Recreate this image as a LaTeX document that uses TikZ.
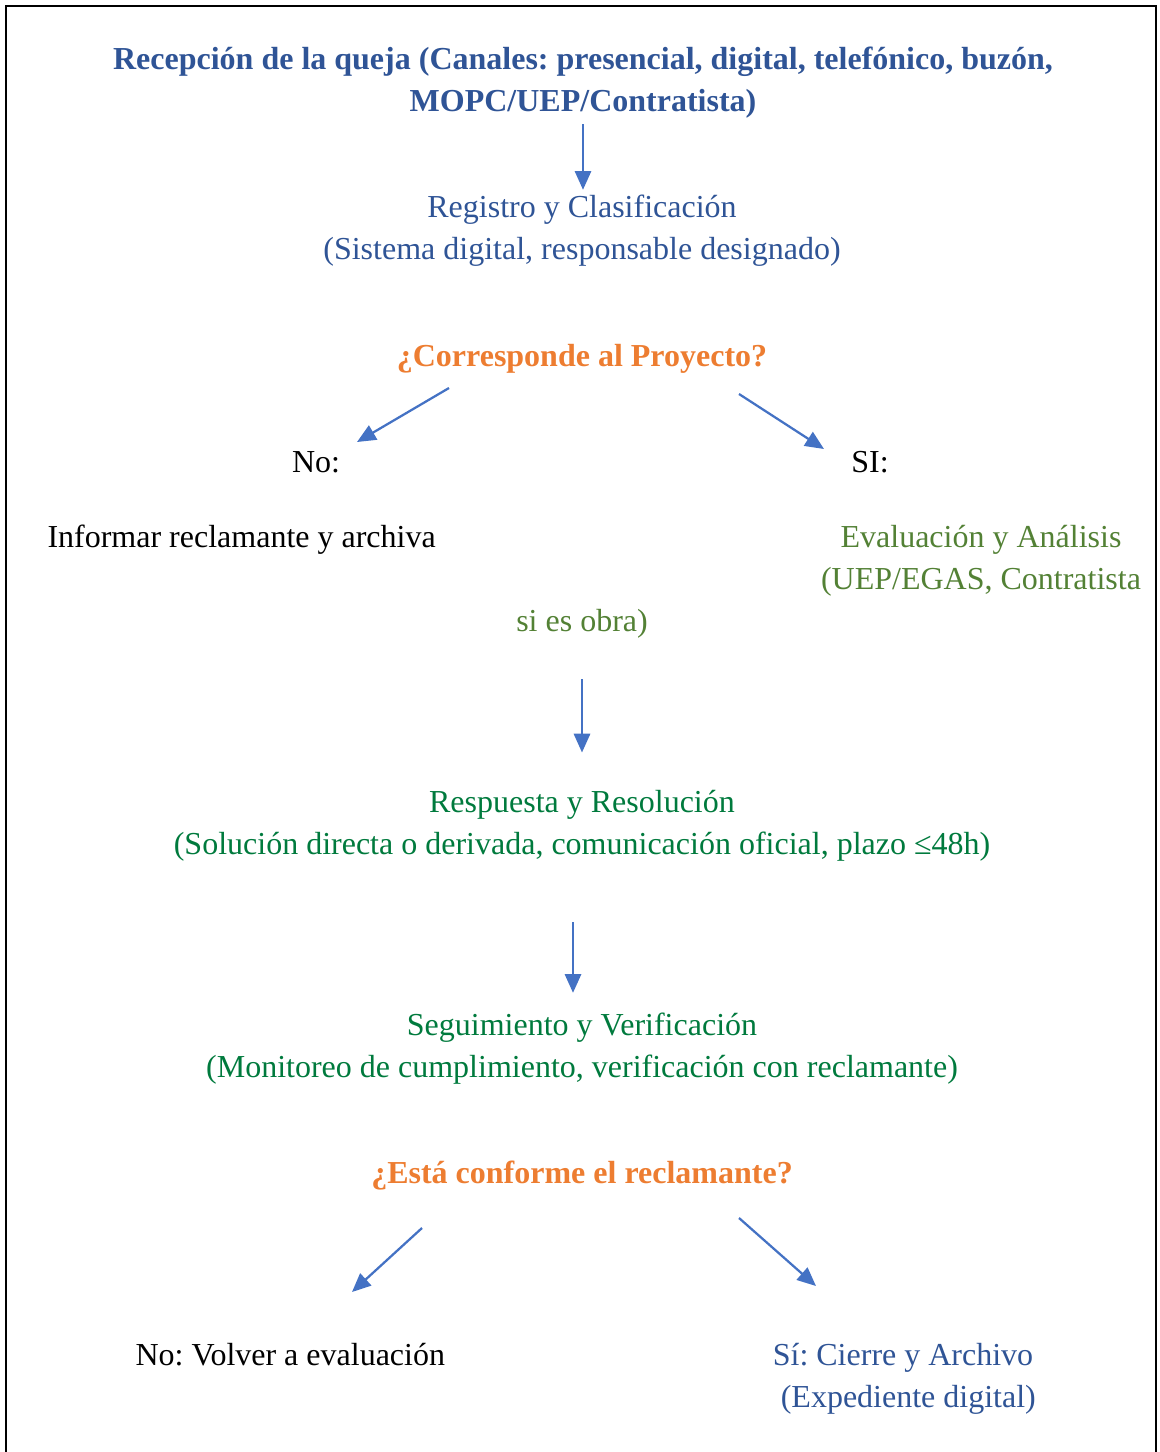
\documentclass[tikz,border=0pt]{standalone}
\usepackage{fontspec}
\setmainfont{Liberation Serif}
\usetikzlibrary{arrows.meta,positioning,calc}
\definecolor{quejablue}{RGB}{47,84,150}
\definecolor{quejaorange}{RGB}{237,125,49}
\definecolor{evalgreen}{RGB}{83,129,53}
\definecolor{resgreen}{RGB}{0,122,61}
\definecolor{arrowblue}{RGB}{68,114,196}
\frenchspacing

\begin{document}
\begin{tikzpicture}[x=0.4pt,y=-0.4pt,
    texto/.style={inner sep=2pt,align=center,font=\fontsize{12.8}{16.8}\selectfont},
    negrita/.style={texto,font=\fontsize{12.8}{16.8}\selectfont\bfseries},
    flecha/.style={draw=arrowblue,line width=0.9pt,-{Triangle[length=7.5pt,width=6.5pt]}}]
    \useasboundingbox (0,0) rectangle (1159,1452);
    % Marco
    \draw[line width=1pt] (6,1470) -- (6,6) -- (1156,6) -- (1156,1470);

    % Recepcion y registro
    \node[negrita,text=quejablue] (recepcion) at (583,83)
        {Recepción de la queja (Canales: presencial, digital, telefónico, buzón,\\MOPC/UEP/Contratista)};
    \node[texto,text=quejablue] (registro) at (582,231)
        {Registro y Clasificación\\(Sistema digital, responsable designado)};

    % Primera decision
    \node[negrita,text=quejaorange] (pregunta1) at (582,359) {¿Corresponde al Proyecto?};
    \node[texto] (no1) at (316,462) {No:};
    \node[texto] (si1) at (870,462) {SI:};
    \node[texto,anchor=west,inner sep=0pt] (archiva) at (47,540) {Informar reclamante y archiva};
    \node[texto,text=evalgreen] (evaluacion) at (981,561)
        {Evaluación y Análisis\\(UEP/EGAS, Contratista};
    \node[texto,text=evalgreen] (obra) at (582,624) {si es obra)};

    % Respuesta y seguimiento
    \node[texto,text=resgreen] (respuesta) at (582,826)
        {Respuesta y Resolución\\(Solución directa o derivada, comunicación oficial, plazo ≤48h)};
    \node[texto,text=resgreen] (seguimiento) at (582,1049)
        {Seguimiento y Verificación\\(Monitoreo de cumplimiento, verificación con reclamante)};

    % Segunda decision
    \node[negrita,text=quejaorange] (pregunta2) at (582,1176) {¿Está conforme el reclamante?};
    \node[texto,anchor=west,inner sep=0pt] (volver) at (135,1355) {No: Volver a evaluación};
    \node[texto,text=quejablue] (cierre) at (903,1379)
        {Sí: Cierre y Archivo\\\phantom{(}(Expediente digital)};

    % Puntas libres de las flechas diagonales
    \coordinate (p1no) at (449,388);
    \coordinate (p1noend) at (357,442);
    \coordinate (p1si) at (739,394);
    \coordinate (p1siend) at (824,449);
    \coordinate (p2no) at (422,1228);
    \coordinate (p2noend) at (352,1292);
    \coordinate (p2si) at (739,1218);
    \coordinate (p2siend) at (816,1286);

    % Flechas
    \draw[flecha] (recepcion.south) -- (recepcion.south |- registro.north);
    \draw[flecha] (p1no) -- (p1noend);
    \draw[flecha] (p1si) -- (p1siend);
    \draw[flecha,shorten <=14pt,shorten >=13pt] (obra) -- (respuesta);
    \draw[flecha,shorten <=22pt,shorten >=6pt] ([xshift=-3.6pt]respuesta.south) -- ([xshift=-3.6pt]seguimiento.north);
    \draw[flecha] (p2no) -- (p2noend);
    \draw[flecha] (p2si) -- (p2siend);
\end{tikzpicture}
\end{document}
